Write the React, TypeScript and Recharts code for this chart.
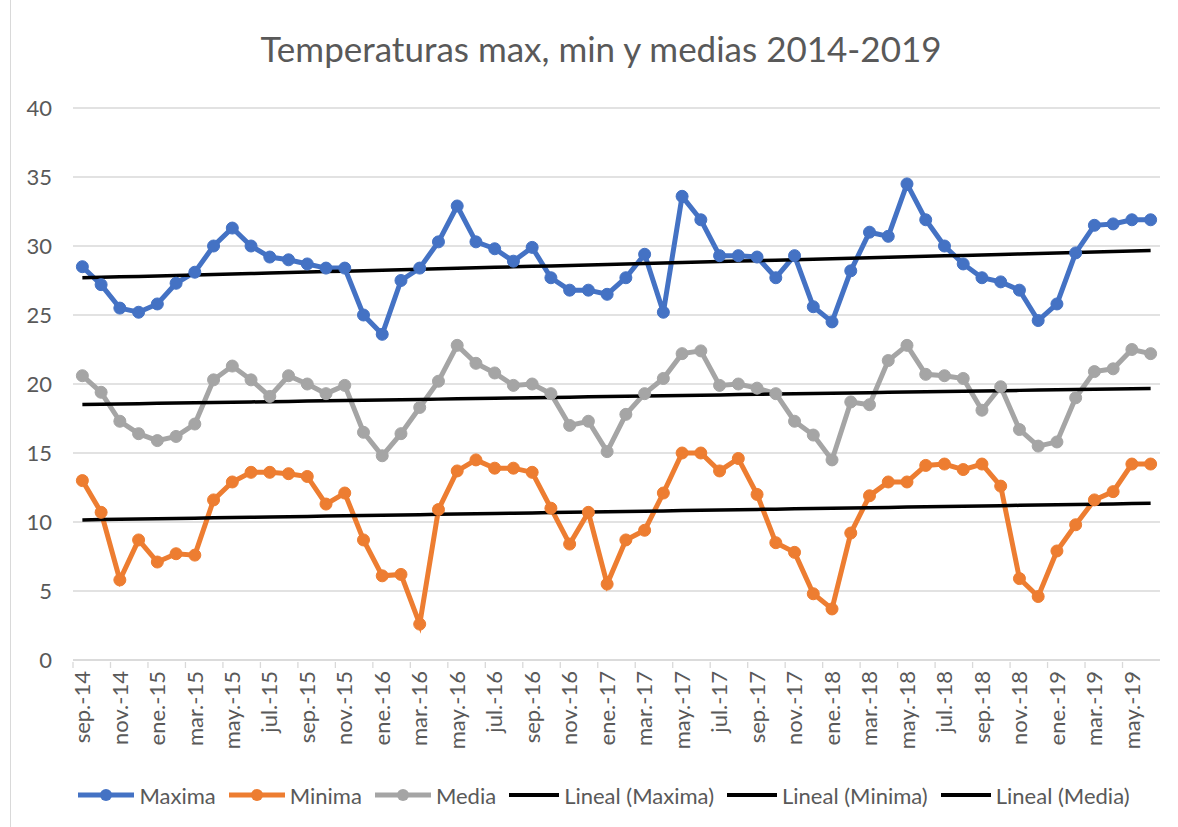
import { LineChart, Line, CartesianGrid, XAxis, YAxis, Legend } from "recharts";

const months = [
  "sep.-14", "oct.-14", "nov.-14", "dic.-14",
  "ene.-15", "feb.-15", "mar.-15", "abr.-15", "may.-15", "jun.-15", "jul.-15", "ago.-15", "sep.-15", "oct.-15", "nov.-15", "dic.-15",
  "ene.-16", "feb.-16", "mar.-16", "abr.-16", "may.-16", "jun.-16", "jul.-16", "ago.-16", "sep.-16", "oct.-16", "nov.-16", "dic.-16",
  "ene.-17", "feb.-17", "mar.-17", "abr.-17", "may.-17", "jun.-17", "jul.-17", "ago.-17", "sep.-17", "oct.-17", "nov.-17", "dic.-17",
  "ene.-18", "feb.-18", "mar.-18", "abr.-18", "may.-18", "jun.-18", "jul.-18", "ago.-18", "sep.-18", "oct.-18", "nov.-18", "dic.-18",
  "ene.-19", "feb.-19", "mar.-19", "abr.-19", "may.-19", "jun.-19",
];

const maxima = [
  28.5, 27.2, 25.5, 25.2, 25.8, 27.3, 28.1, 30.0, 31.3, 30.0,
  29.2, 29.0, 28.7, 28.4, 28.4, 25.0, 23.6, 27.5, 28.4, 30.3,
  32.9, 30.3, 29.8, 28.9, 29.9, 27.7, 26.8, 26.8, 26.5, 27.7,
  29.4, 25.2, 33.6, 31.9, 29.3, 29.3, 29.2, 27.7, 29.3, 25.6,
  24.5, 28.2, 31.0, 30.7, 34.5, 31.9, 30.0, 28.7, 27.7, 27.4,
  26.8, 24.6, 25.8, 29.5, 31.5, 31.6, 31.9, 31.9,
];

const minima = [
  13.0, 10.7, 5.8, 8.7, 7.1, 7.7, 7.6, 11.6, 12.9, 13.6,
  13.6, 13.5, 13.3, 11.3, 12.1, 8.7, 6.1, 6.2, 2.6, 10.9,
  13.7, 14.5, 13.9, 13.9, 13.6, 11.0, 8.4, 10.7, 5.5, 8.7,
  9.4, 12.1, 15.0, 15.0, 13.7, 14.6, 12.0, 8.5, 7.8, 4.8,
  3.7, 9.2, 11.9, 12.9, 12.9, 14.1, 14.2, 13.8, 14.2, 12.6,
  5.9, 4.6, 7.9, 9.8, 11.6, 12.2, 14.2, 14.2,
];

const media = [
  20.6, 19.4, 17.3, 16.4, 15.9, 16.2, 17.1, 20.3, 21.3, 20.3,
  19.1, 20.6, 20.0, 19.3, 19.9, 16.5, 14.8, 16.4, 18.3, 20.2,
  22.8, 21.5, 20.8, 19.9, 20.0, 19.3, 17.0, 17.3, 15.1, 17.8,
  19.3, 20.4, 22.2, 22.4, 19.9, 20.0, 19.7, 19.3, 17.3, 16.3,
  14.5, 18.7, 18.5, 21.7, 22.8, 20.7, 20.6, 20.4, 18.1, 19.8,
  16.7, 15.5, 15.8, 19.0, 20.9, 21.1, 22.5, 22.2,
];

const yTicks = [0, 5, 10, 15, 20, 25, 30, 35, 40];

// Excel "Lineal" trendline = least squares fit over the month index
function trend(values: number[]) {
  const n = values.length;
  const mx = (n - 1) / 2;
  const my = values.reduce((a, b) => a + b, 0) / n;
  let sxy = 0;
  let sxx = 0;
  values.forEach((v, i) => {
    sxy += (i - mx) * (v - my);
    sxx += (i - mx) * (i - mx);
  });
  const b = sxy / sxx;
  return values.map((_, i) => my + b * (i - mx));
}

const tMax = trend(maxima);
const tMin = trend(minima);
const tMed = trend(media);

const data = months.map((m, i) => ({
  month: m,
  maxima: maxima[i],
  minima: minima[i],
  media: media[i],
  tMax: tMax[i],
  tMin: tMin[i],
  tMed: tMed[i],
}));

const W = 1178;
const H = 827;
const LEFT = 73;
const RIGHT = 18;
const band = (W - LEFT - RIGHT) / months.length;
const FONT = "Lato, 'Noto Sans', sans-serif";
const GREY = "#595959";

const MonthTick = (props: any) => {
  const { x, y, payload, index } = props;
  const left = x - band / 2;
  return (
    <g>
      <line x1={left} x2={left} y1={y} y2={y + 6} stroke="#d9d9d9" strokeWidth={1.3} />
      {index === months.length - 2 && (
        <line x1={x + band * 1.5} x2={x + band * 1.5} y1={y} y2={y + 6} stroke="#d9d9d9" strokeWidth={1.3} />
      )}
      <text
        transform={`translate(${x},${y + 9}) rotate(-90)`}
        textAnchor="end"
        dy="0.35em"
        fontSize={22}
        fill={GREY}
        fontFamily={FONT}
      >
        {payload.value}
      </text>
    </g>
  );
};

const legendItems = [
  { label: "Maxima", color: "#4472C4", dot: true },
  { label: "Minima", color: "#ED7D31", dot: true },
  { label: "Media", color: "#A5A5A5", dot: true },
  { label: "Lineal (Maxima)", color: "#000000", dot: false },
  { label: "Lineal (Minima)", color: "#000000", dot: false },
  { label: "Lineal (Media)", color: "#000000", dot: false },
];

const LegendContent = () => (
  <div
    style={{
      height: 30,
      display: "flex",
      justifyContent: "center",
      alignItems: "center",
      gap: 13,
      fontFamily: FONT,
      fontSize: 22,
      color: GREY,
      paddingLeft: 48,
    }}
  >
    {legendItems.map((it) => (
      <div key={it.label} style={{ display: "flex", alignItems: "center", gap: 5 }}>
        <svg width={it.dot ? 56 : 50} height={14}>
          <line x1={0} x2={it.dot ? 56 : 50} y1={7} y2={7} stroke={it.color} strokeWidth={it.dot ? 5 : 4} />
          {it.dot && <circle cx={28} cy={7} r={6} fill={it.color} />}
        </svg>
        <span>{it.label}</span>
      </div>
    ))}
  </div>
);

export default function App() {
  return (
    <div style={{ position: "absolute", left: 0, top: 0, width: W, height: H, background: "#fff" }}>
      <div style={{ position: "absolute", left: 10, top: 0, width: 1, height: H, background: "#d9d9d9" }} />
      <div
        style={{
          position: "absolute",
          top: 27,
          left: 0,
          width: W,
          textAlign: "center",
          fontFamily: FONT,
          fontSize: 35,
          color: GREY,
          paddingLeft: 24,
          boxSizing: "border-box",
        }}
      >
        Temperaturas max, min y medias 2014-2019
      </div>
      <LineChart width={W} height={H} data={data} margin={{ top: 108, right: RIGHT, left: 0, bottom: 17 }}>
        <CartesianGrid horizontal vertical={false} stroke="#d9d9d9" strokeWidth={1.3} />
        <XAxis
          dataKey="month"
          interval={1}
          height={120}
          padding={{ left: band / 2, right: band / 2 }}
          axisLine={{ stroke: "#d9d9d9", strokeWidth: 1.3 }}
          tickLine={false}
          tickSize={0}
          tick={<MonthTick />}
        />
        <YAxis
          domain={[0, 40]}
          ticks={yTicks}
          width={LEFT}
          axisLine={false}
          tickLine={false}
          tickSize={0}
          tickMargin={21}
          tick={{ fontSize: 22, fill: GREY, fontFamily: FONT }}
        />
        <Legend verticalAlign="bottom" content={<LegendContent />} />
        <Line type="linear" dataKey="maxima" stroke="#4472C4" strokeWidth={5} dot={{ r: 6, fill: "#4472C4", stroke: "#4472C4", strokeWidth: 1 }} isAnimationActive={false} />
        <Line type="linear" dataKey="minima" stroke="#ED7D31" strokeWidth={5} dot={{ r: 6, fill: "#ED7D31", stroke: "#ED7D31", strokeWidth: 1 }} isAnimationActive={false} />
        <Line type="linear" dataKey="media" stroke="#A5A5A5" strokeWidth={5} dot={{ r: 6, fill: "#A5A5A5", stroke: "#A5A5A5", strokeWidth: 1 }} isAnimationActive={false} />
        <Line type="linear" dataKey="tMax" stroke="#000" strokeWidth={3.5} dot={false} isAnimationActive={false} />
        <Line type="linear" dataKey="tMin" stroke="#000" strokeWidth={3.5} dot={false} isAnimationActive={false} />
        <Line type="linear" dataKey="tMed" stroke="#000" strokeWidth={3.5} dot={false} isAnimationActive={false} />
      </LineChart>
    </div>
  );
}
